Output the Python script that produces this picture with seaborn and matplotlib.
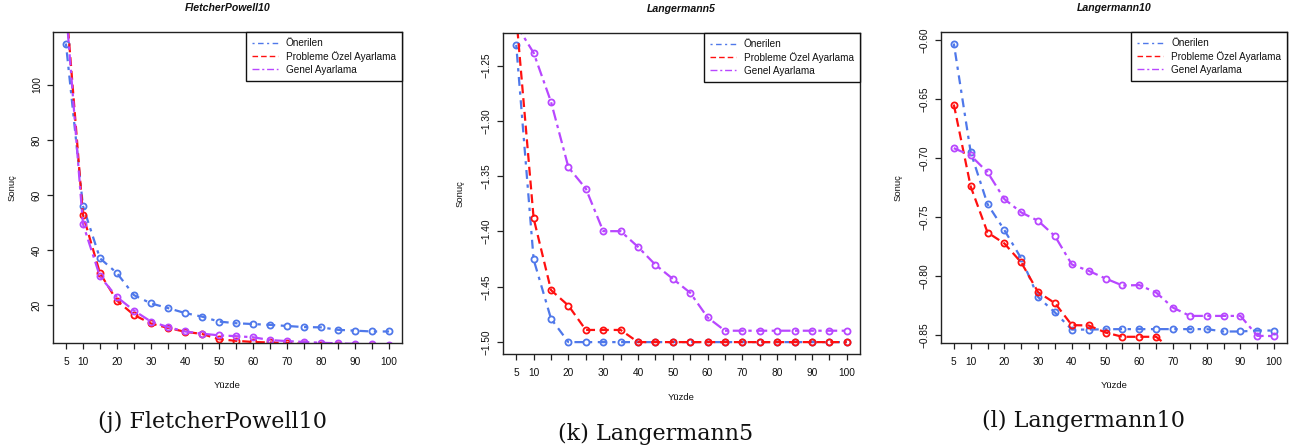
import numpy as np
import pandas as pd
import matplotlib
matplotlib.use("Agg")
import matplotlib.pyplot as plt
import seaborn as sns
from matplotlib.lines import Line2D

# ---------------- data ----------------
yuzde = [5, 10, 15, 20, 25, 30, 35, 40, 45, 50, 55, 60, 65, 70, 75, 80, 85, 90, 95, 100]
series_names = ["Önerilen", "Probleme Özel Ayarlama", "Genel Ayarlama"]
panel_titles = ["FletcherPowell10", "Langermann5", "Langermann10"]
captions = ["(j) FletcherPowell10", "(k) Langermann5", "(l) Langermann10"]

fp_onerilen = [115.0, 56.0, 37.0, 31.6, 23.6, 20.6, 18.9, 17.1, 15.8, 14.0,
               13.4, 13.1, 12.8, 12.4, 12.0, 11.9, 11.0, 10.7, 10.4, 10.4]
fp_ozel = [130.0, 52.8, 31.6, 21.6, 16.4, 13.3, 11.7, 10.3, 9.5, 7.6,
           7.0, 6.6, 6.4, 6.2, 5.9, 5.6, 5.4, 5.2, 5.0, 4.9]
fp_genel = [128.0, 49.5, 30.4, 22.9, 18.0, 14.0, 12.0, 10.4, 9.6, 9.0,
            8.7, 8.3, 7.3, 6.9, 6.6, 6.3, 6.1, 5.9, 5.7, 5.5]

l5_onerilen = [-1.2313, -1.4253, -1.4789, -1.500, -1.500, -1.500, -1.500, -1.500, -1.500, -1.500,
               -1.500, -1.500, -1.500, -1.500, -1.500, -1.500, -1.500, -1.500, -1.500, -1.500]
l5_ozel = [-1.205, -1.388, -1.453, -1.467, -1.489, -1.489, -1.489, -1.500, -1.500, -1.500,
           -1.500, -1.500, -1.500, -1.500, -1.500, -1.500, -1.500, -1.500, -1.500, -1.500]
l5_genel = [-1.213, -1.2385, -1.2828, -1.342, -1.3612, -1.3997, -1.3997, -1.4139, -1.4301, -1.4428,
            -1.4554, -1.4777, -1.4897, -1.4897, -1.4897, -1.4897, -1.4897, -1.4897, -1.4897, -1.4897]

l10_onerilen = [-0.6028, -0.6949, -0.7390, -0.7610, -0.7850, -0.8178, -0.8308, -0.8453, -0.8453, -0.8450,
                -0.8449, -0.8449, -0.8449, -0.8449, -0.8449, -0.8449, -0.8469, -0.8469, -0.8461, -0.8461]
l10_ozel = [-0.6545, -0.7240, -0.7630, -0.7723, -0.7884, -0.8136, -0.8229, -0.8415, -0.8418, -0.8478,
            -0.8514, -0.8514, -0.8514, -0.8630, -0.8660, -0.8680, -0.8700, -0.8710, -0.8730, -0.8750]
l10_genel = [-0.6915, -0.6977, -0.7119, -0.7347, -0.7460, -0.7531, -0.7661, -0.7901, -0.7955, -0.8020,
             -0.8079, -0.8076, -0.8139, -0.8267, -0.8337, -0.8337, -0.8337, -0.8337, -0.8506, -0.8508]

y_ticks = [[20, 40, 60, 80, 100],
           [-1.50, -1.45, -1.40, -1.35, -1.30, -1.25],
           [-0.85, -0.80, -0.75, -0.70, -0.65, -0.60]]
x_tick_labels = ["5", "10", "", "20", "", "30", "", "40", "", "50", "", "60", "",
                 "70", "", "80", "", "90", "", "100"]

panels = [(fp_onerilen, fp_ozel, fp_genel),
          (l5_onerilen, l5_ozel, l5_genel),
          (l10_onerilen, l10_ozel, l10_genel)]

# ---------------- style ----------------
sns.set_style("white")
plt.rcParams["font.family"] = ["Liberation Sans", "DejaVu Sans"]
plt.rcParams["axes.unicode_minus"] = True

colors = ["#4f78ea", "#ff1010", "#b847ff"]
styles = [(0, (1.5, 2.5, 4, 2.5)), (0, (4, 2.2)), (0, (5, 2, 1.5, 2))]
ylab_fmt = ["{:.0f}", "{:.2f}", "{:.2f}"]

W, H = 1297, 445
fig = plt.figure(figsize=(W / 100, H / 100), dpi=100)

# axes boxes in pixels: left, top, right, bottom
boxes = [(53, 32, 402, 343), (503, 33, 860, 354), (941, 32, 1287, 343)]
xlab_y = [385, 398, 385]
ylab_x = [12, 460, 898]
title_y = [8, 9, 8]
cap_pos = [(213, 422), (656, 434), (1084, 421)]

for i, (box, data) in enumerate(zip(boxes, panels)):
    l, t, r, b = box
    ax = fig.add_axes([l / W, 1 - b / H, (r - l) / W, (b - t) / H])
    for name, vals, c, ls in zip(series_names, data, colors, styles):
        df = pd.DataFrame({"Yüzde": yuzde, "Sonuç": vals})
        sns.lineplot(data=df, x="Yüzde", y="Sonuç", ax=ax, color=c, linestyle=ls,
                     lw=1.6, marker="o", markersize=4.4, markerfacecolor="none",
                     markeredgecolor=c, markeredgewidth=1.3, errorbar=None,
                     estimator=None, sort=False)
    # R style axis ranges: 4% extension, y from the first series
    xr = max(yuzde) - min(yuzde)
    ax.set_xlim(min(yuzde) - 0.04 * xr, max(yuzde) + 0.04 * xr)
    y0 = data[0]
    yr = max(y0) - min(y0)
    ax.set_ylim(min(y0) - 0.04 * yr, max(y0) + 0.04 * yr)

    ax.set_xticks(yuzde)
    ax.set_xticklabels(x_tick_labels)
    ax.set_yticks(y_ticks[i])
    ax.set_yticklabels([ylab_fmt[i].format(v).replace("-", "\u2212") for v in y_ticks[i]],
                       rotation=90, va="center")
    ax.tick_params(axis="both", direction="out", length=4.5, width=0.9, color="#222222",
                   labelsize=7.3, labelcolor="#111111")
    ax.tick_params(axis="x", pad=5.5)
    ax.tick_params(axis="y", pad=3.5)
    ax.tick_params(axis="both", bottom=True, left=True)
    for s in ax.spines.values():
        s.set_visible(True)
        s.set_color("#222222")
        s.set_linewidth(1.0)

    ax.set_xlabel("")
    ax.set_ylabel("")
    # axis labels
    fig.text(((l + r) / 2) / W, 1 - xlab_y[i] / H, "Yüzde", ha="center", va="center",
             fontsize=6.8, color="#111111")
    fig.text(ylab_x[i] / W, 1 - ((t + b) / 2) / H, "Sonuç", ha="center", va="center",
             rotation=90, fontsize=6.8, color="#111111")
    # title
    fig.text(((l + r) / 2) / W, 1 - title_y[i] / H, panel_titles[i], ha="center", va="center",
             fontsize=7.6, fontweight="bold", fontstyle="italic", color="#111111")
    # caption
    fig.text(cap_pos[i][0] / W, 1 - cap_pos[i][1] / H, captions[i], ha="center", va="center",
             fontsize=16, family="DejaVu Serif", color="#111111")

    handles = [Line2D([], [], color=c, linestyle=ls, lw=1.0) for c, ls in zip(colors, styles)]
    leg = ax.legend(handles, series_names, loc="upper right", borderaxespad=0,
                    fontsize=7.2, fancybox=False, framealpha=1, edgecolor="#111111",
                    handlelength=2.6, handletextpad=0.8, borderpad=0.6,
                    labelspacing=0.3)
    leg.get_frame().set_linewidth(1.0)
    for txt in leg.get_texts():
        txt.set_color("#111111")

fig.savefig("out.png", dpi=100, facecolor="white")
